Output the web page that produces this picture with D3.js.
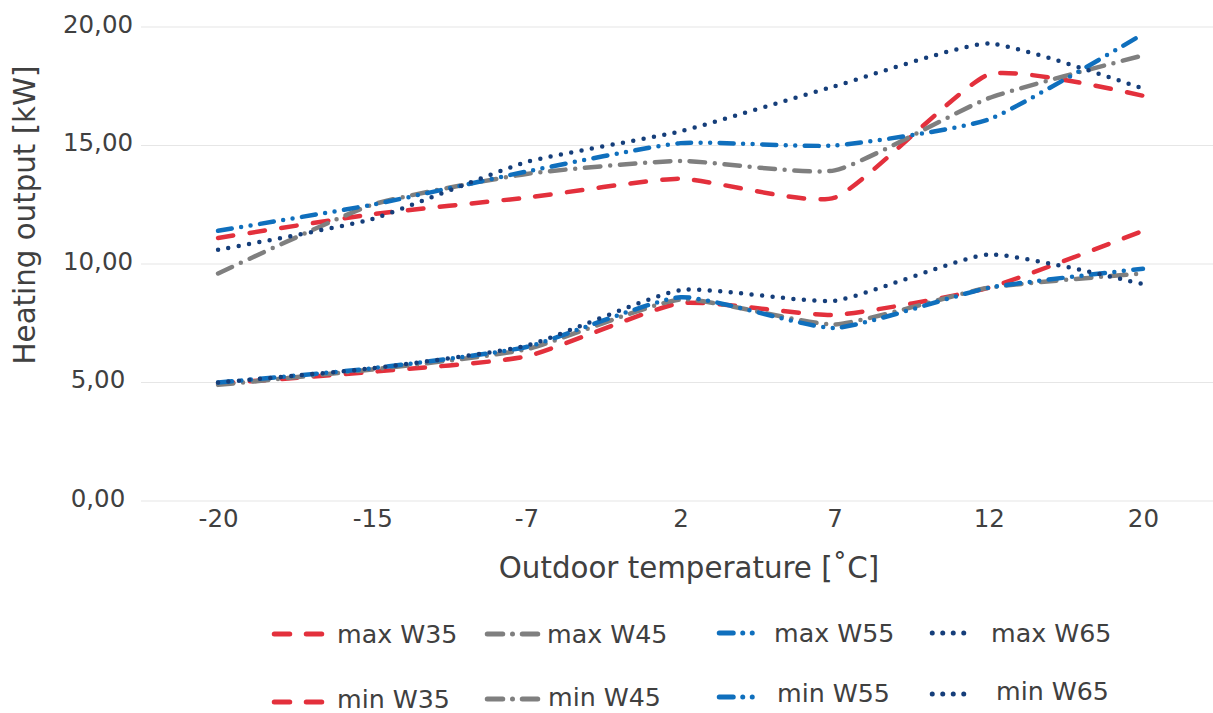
<!DOCTYPE html>
<html>
<head>
<meta charset="utf-8">
<script src="https://cdn.jsdelivr.net/npm/d3@7"></script>
<style>
  html, body { margin: 0; padding: 0; background: #fff; }
  svg { display: block; font-family: "DejaVu Sans", Verdana, sans-serif; }
</style>
</head>
<body>
<svg id="chart" width="1213" height="713"></svg>
<script>
// ---- data ----
const categories = ["-20", "-15", "-7", "2", "7", "12", "20"];
const yTicks = [0, 5, 10, 15, 20];
const seriesNames = ["max W35", "max W45", "max W55", "max W65", "min W35", "min W45", "min W55", "min W65"];
const maxW35 = [11.1, 12.1, 12.8, 13.6, 12.8, 18.0, 17.1];
const maxW45 = [9.6, 12.5, 13.8, 14.35, 13.95, 17.0, 18.8];
const maxW55 = [11.4, 12.5, 13.9, 15.1, 15.0, 16.1, 19.7];
const maxW65 = [10.6, 11.9, 14.3, 15.6, 17.5, 19.3, 17.4];
const minW35 = [4.95, 5.45, 6.1, 8.35, 7.85, 9.0, 11.4];
const minW45 = [4.9, 5.55, 6.4, 8.5, 7.45, 9.0, 9.6];
const minW55 = [5.0, 5.6, 6.5, 8.6, 7.3, 9.0, 9.8];
const minW65 = [5.0, 5.6, 6.55, 8.9, 8.45, 10.4, 9.15];
const seriesValues = [maxW35, maxW45, maxW55, maxW65, minW35, minW45, minW55, minW65];
const xTitle = "Outdoor temperature [\u02DAC]";
const yTitle = "Heating output [kW]";

// ---- styles ----
const colors = ["#e3303c", "#7f7f7f", "#0f6fbd", "#153e7a"];
const dashes = ["15.5,16.5", "15.5,9.75,0,9.75", "14,9.5,0,9.5,0,9.5", "0,10.5"];
const textColor = "#404040";

const svg = d3.select("#chart");
const plotL = 141, plotR = 1220, plotT = 27, plotB = 501;

const x = d3.scalePoint().domain(categories).range([plotL, plotR]).padding(0.5);
const y = d3.scaleLinear().domain([0, 20]).range([plotB, plotT]);

const loc = d3.formatLocale({decimal: ",", thousands: ".", grouping: [3], currency: ["", ""]});
const fmt = loc.format(".2f");

// gridlines
svg.append("g").selectAll("line").data(yTicks).join("line")
  .attr("x1", plotL).attr("x2", plotR)
  .attr("y1", d => y(d)).attr("y2", d => y(d))
  .attr("stroke", "#e6e6e6").attr("stroke-width", 1.2);

// y axis (labels centred in their column)
const yAxis = svg.append("g").attr("transform", "translate(98,0)")
  .call(d3.axisLeft(y).tickValues(yTicks).tickFormat(fmt).tickSize(0).tickPadding(0));
yAxis.select(".domain").remove();
yAxis.selectAll("text").attr("fill", textColor).style("font-size", "24.5px")
  .attr("text-anchor", "middle")
  .style("font-family", "'DejaVu Sans', Verdana, sans-serif").attr("dy", "0.22em");

// x axis
const xAxis = svg.append("g").attr("transform", `translate(0,${plotB})`)
  .call(d3.axisBottom(x).tickSize(0).tickPadding(8.6));
xAxis.select(".domain").remove();
xAxis.selectAll("text").attr("fill", textColor).style("font-size", "24.5px")
  .style("font-family", "'DejaVu Sans', Verdana, sans-serif");

// titles
svg.append("text").attr("x", 689).attr("y", 578).attr("text-anchor", "middle")
  .attr("fill", textColor).style("font-size", "29.3px").text(xTitle);
svg.append("text").attr("transform", "translate(35,215) rotate(-90)").attr("text-anchor", "middle")
  .attr("fill", textColor).style("font-size", "29.3px").text(yTitle);

// lines
const line = d3.line()
  .x((d, i) => x(categories[i]))
  .y(d => y(d))
  .curve(d3.curveCardinal.tension(0.5));

const g = svg.append("g");
seriesValues.forEach((vals, k) => {
  g.append("path").datum(vals)
    .attr("d", line)
    .attr("fill", "none")
    .attr("stroke", colors[k % 4])
    .attr("stroke-width", 4.5)
    .attr("stroke-linecap", "round")
    .attr("stroke-linejoin", "round")
    .attr("stroke-dasharray", dashes[k % 4]);
});

// legend
const legSym = [[274.25, 321.75], [487.25, 537.75], [719.25, 754.75], [932.25, 974.25]];
const legTextX = [[337, 547, 774, 991], [337, 548, 777, 996]];
const legSymY = [[634, 634, 633, 633], [702, 699, 697, 694]];
const legTextY = [[643, 643, 642, 642], [708, 706, 702, 700]];
const leg = svg.append("g");
seriesNames.forEach((name, k) => {
  const row = Math.floor(k / 4), col = k % 4;
  leg.append("line")
    .attr("x1", legSym[col][0]).attr("x2", legSym[col][1])
    .attr("y1", legSymY[row][col]).attr("y2", legSymY[row][col])
    .attr("stroke", colors[col]).attr("stroke-width", 5)
    .attr("stroke-linecap", "round")
    .attr("stroke-dasharray", dashes[col]);
  leg.append("text").attr("x", legTextX[row][col]).attr("y", legTextY[row][col])
    .attr("fill", textColor).style("font-size", "25.3px").text(name);
});
</script>
</body>
</html>
